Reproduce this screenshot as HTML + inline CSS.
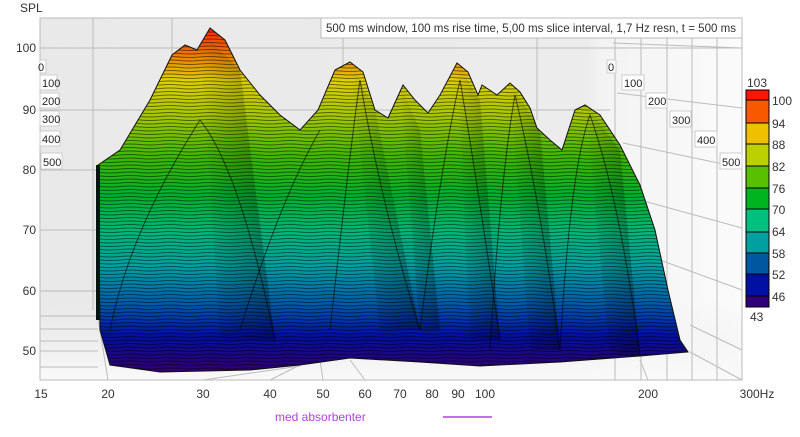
<!DOCTYPE html>
<html><head><meta charset="utf-8"><style>
body{margin:0;background:#fff;width:800px;height:432px;overflow:hidden;font-family:"Liberation Sans",sans-serif}
</style></head><body>
<svg width="800" height="432" xmlns="http://www.w3.org/2000/svg" font-family="Liberation Sans, sans-serif">
<defs>
<linearGradient id="bg" x1="0" y1="0" x2="1" y2="0">
<stop offset="0" stop-color="#e9e9e9"/><stop offset="0.78" stop-color="#ececec"/><stop offset="0.8" stop-color="#f3f3f3"/><stop offset="1" stop-color="#fbfbfb"/></linearGradient>
<linearGradient id="floor" x1="0" y1="0" x2="0" y2="1">
<stop offset="0" stop-color="#ececec" stop-opacity="0"/><stop offset="1" stop-color="#fafafa"/></linearGradient>
<linearGradient id="surf" gradientUnits="userSpaceOnUse" x1="0" y1="25" x2="0" y2="370">
<stop offset="0" stop-color="#ff1a00"/>
<stop offset="0.06" stop-color="#f06000"/>
<stop offset="0.16" stop-color="#e0d000"/>
<stop offset="0.26" stop-color="#a8c800"/>
<stop offset="0.38" stop-color="#40b800"/>
<stop offset="0.5" stop-color="#00b030"/>
<stop offset="0.6" stop-color="#00b878"/>
<stop offset="0.7" stop-color="#00a0a0"/>
<stop offset="0.8" stop-color="#0060a8"/>
<stop offset="0.9" stop-color="#0010a0"/>
<stop offset="1" stop-color="#300070"/>
</linearGradient>
<pattern id="hl" width="40" height="3.5" patternUnits="userSpaceOnUse">
<path d="M0,1 Q10,0 20,1 T40,1" stroke="#000" stroke-width="0.9" fill="none" opacity="0.5"/></pattern>
<linearGradient id="shade" x1="0" y1="0" x2="1" y2="0">
<stop offset="0" stop-color="#000" stop-opacity="0"/><stop offset="1" stop-color="#000" stop-opacity="0.3"/></linearGradient>
<clipPath id="sc"><path id="sp" d="M98,165 L120,150 L150,100 L172,55 L185,45 L197,50 L210,28 L225,40 L240,70 L260,95 L280,115 L300,130 L318,110 L335,70 L350,62 L363,72 L375,110 L388,118 L403,85 L415,100 L428,113 L440,95 L457,63 L468,72 L478,95 L482,85 L497,95 L510,83 L520,92 L530,108 L537,128 L550,140 L562,150 L575,110 L585,105 L600,115 L620,145 L640,185 L655,230 L668,290 L680,340 L688,352 L640,356 L560,362 L480,366 L420,362 L350,358 L300,365 L250,370 L160,372 L110,365 L100,330 Z"/></clipPath>
</defs>
<rect x="40" y="18" width="702" height="362" fill="url(#bg)"/>
<polygon points="40,300 742,300 742,380 40,380" fill="url(#floor)"/>
<rect x="40" y="18" width="702" height="362" fill="none" stroke="#bbb"/>
<g stroke="#bcbcbc" stroke-width="1" fill="none">
<line x1="40" y1="48" x2="742" y2="48"/>
<line x1="40" y1="110" x2="610" y2="110"/>
<line x1="40" y1="170" x2="610" y2="170"/>
<line x1="40" y1="230" x2="610" y2="230"/>
<line x1="40" y1="291" x2="610" y2="291"/>
<line x1="40" y1="351" x2="98" y2="351"/>
<line x1="93" y1="18" x2="93" y2="310"/>
<line x1="172" y1="18" x2="172" y2="200"/>
<line x1="343" y1="18" x2="343" y2="100"/>
<line x1="537" y1="18" x2="537" y2="120"/>
<line x1="615" y1="18" x2="615" y2="380"/>
<line x1="641" y1="18" x2="641" y2="380"/>
<line x1="667" y1="18" x2="667" y2="380"/>
<line x1="692" y1="18" x2="692" y2="380"/>
<line x1="717" y1="18" x2="717" y2="380"/>
<line x1="613" y1="43" x2="742" y2="48"/>
<line x1="617" y1="93" x2="742" y2="108"/>
<line x1="623" y1="143" x2="742" y2="168"/>
<line x1="640" y1="200" x2="742" y2="228"/>
<line x1="660" y1="260" x2="742" y2="290"/>
<line x1="690" y1="325" x2="742" y2="350"/>
<line x1="40" y1="316" x2="98" y2="316"/>
<line x1="40" y1="329" x2="98" y2="329"/>
<line x1="40" y1="341" x2="98" y2="341"/>
<line x1="40" y1="367" x2="98" y2="367"/>
<line x1="98" y1="318" x2="108" y2="380"/>
<line x1="300" y1="366" x2="203" y2="380"/>
<line x1="310" y1="360" x2="270" y2="380"/>
<line x1="320" y1="360" x2="323" y2="380"/>
<line x1="350" y1="360" x2="365" y2="380"/>
<line x1="690" y1="352" x2="742" y2="380"/>
<line x1="640" y1="360" x2="648" y2="380"/>
</g>
<use href="#sp" fill="url(#surf)"/>
<g clip-path="url(#sc)">
<rect x="90" y="20" width="610" height="360" fill="url(#hl)"/>
<g fill="url(#shade)">
<path d="M200,30 L240,70 L275,340 L220,340 Z"/>
<path d="M350,62 L375,110 L420,330 L380,330 Z"/>
<path d="M457,63 L480,100 L500,340 L470,340 Z"/>
<path d="M510,83 L540,130 L560,350 L530,350 Z"/>
<path d="M585,105 L620,150 L640,355 L610,355 Z"/>
<path d="M400,85 L420,130 L440,330 L420,330 Z"/>
</g>
<g fill="none" stroke="#000" stroke-opacity="0.55" stroke-width="1.1">
<path d="M110,330 Q130,230 200,120 Q240,170 275,340"/>
<path d="M240,330 Q280,200 320,130"/>
<path d="M330,330 Q350,150 360,80 Q380,200 420,330"/>
<path d="M420,330 Q440,170 460,80 Q480,200 500,340"/>
<path d="M490,350 Q500,180 515,95 Q540,200 560,350"/>
<path d="M560,350 Q570,170 590,115 Q620,200 640,355"/>
</g>
</g>
<use href="#sp" fill="none" stroke="#111" stroke-width="1"/>
<rect x="96" y="165" width="4" height="155" fill="#04140e"/>
<rect x="321" y="18" width="421" height="20" fill="#fff" stroke="#bbb"/>
<text x="326" y="32" font-size="12" fill="#333" textLength="410" lengthAdjust="spacingAndGlyphs">500 ms window, 100 ms rise time, 5,00 ms slice interval, 1,7 Hz resn, t = 500 ms</text>
<g font-size="11" fill="#222">
<rect x="40" y="60" width="6" height="13" fill="#fff" stroke="#ccc"/><text x="38" y="71">0</text>
<rect x="40" y="75" width="17" height="15" fill="#fff" stroke="#ccc"/><text x="42" y="87">100</text>
<rect x="40" y="93" width="19" height="15" fill="#fff" stroke="#ccc"/><text x="42" y="105">200</text>
<rect x="40" y="111" width="19" height="15" fill="#fff" stroke="#ccc"/><text x="42" y="123">300</text>
<rect x="40" y="131" width="20" height="15" fill="#fff" stroke="#ccc"/><text x="42" y="143">400</text>
<rect x="41" y="153" width="21" height="16" fill="#fff" stroke="#ccc"/><text x="43" y="166">500</text>
<rect x="607" y="60" width="9" height="13" fill="#fff" stroke="#ccc"/><text x="608" y="71">0</text>
<rect x="622" y="75" width="22" height="15" fill="#fff" stroke="#ccc"/><text x="624" y="87">100</text>
<rect x="646" y="93" width="21" height="15" fill="#fff" stroke="#ccc"/><text x="648" y="105">200</text>
<rect x="670" y="111" width="21" height="16" fill="#fff" stroke="#ccc"/><text x="672" y="124">300</text>
<rect x="695" y="131" width="22" height="16" fill="#fff" stroke="#ccc"/><text x="697" y="144">400</text>
<rect x="720" y="153" width="22" height="16" fill="#fff" stroke="#ccc"/><text x="722" y="166">500</text>
</g>
<g font-size="12" fill="#333" text-anchor="end">
<text x="36" y="52">100</text><text x="36" y="114">90</text><text x="36" y="174">80</text>
<text x="36" y="234">70</text><text x="36" y="295">60</text><text x="36" y="355">50</text>
</g>
<text x="20" y="12" font-size="12" fill="#333">SPL</text>
<g font-size="12" fill="#333" text-anchor="middle">
<text x="41" y="398">15</text><text x="108" y="398">20</text><text x="203" y="398">30</text>
<text x="270" y="398">40</text><text x="323" y="398">50</text><text x="365" y="398">60</text>
<text x="400" y="398">70</text><text x="432" y="398">80</text><text x="458" y="398">90</text>
<text x="485" y="398">100</text><text x="648" y="398">200</text><text x="757" y="398">300Hz</text>
</g>
<g stroke="#000" stroke-width="1">
<rect x="746" y="90" width="23" height="10" fill="#ff1500"/>
<rect x="746" y="100" width="23" height="23" fill="#f85800"/>
<rect x="746" y="123" width="23" height="21" fill="#eec000"/>
<rect x="746" y="144" width="23" height="22" fill="#bcd000"/>
<rect x="746" y="166" width="23" height="22" fill="#58c000"/>
<rect x="746" y="188" width="23" height="21" fill="#00b420"/>
<rect x="746" y="209" width="23" height="23" fill="#00c080"/>
<rect x="746" y="232" width="23" height="21" fill="#00a0a0"/>
<rect x="746" y="253" width="23" height="21" fill="#0058a0"/>
<rect x="746" y="274" width="23" height="22" fill="#0010a0"/>
<rect x="746" y="296" width="23" height="11" fill="#300078"/>
</g>
<g font-size="12" fill="#333">
<text x="747" y="87">103</text><text x="772" y="105">100</text><text x="772" y="128">94</text>
<text x="772" y="149">88</text><text x="772" y="171">82</text><text x="772" y="193">76</text>
<text x="772" y="214">70</text><text x="772" y="236">64</text><text x="772" y="258">58</text>
<text x="772" y="279">52</text><text x="772" y="301">46</text><text x="750" y="321">43</text>
</g>
<text x="275" y="421" font-size="12" fill="#b040e0">med absorbenter</text>
<line x1="443" y1="417" x2="492" y2="417" stroke="#b040e0" stroke-width="1.5"/>
</svg>
</body></html>
